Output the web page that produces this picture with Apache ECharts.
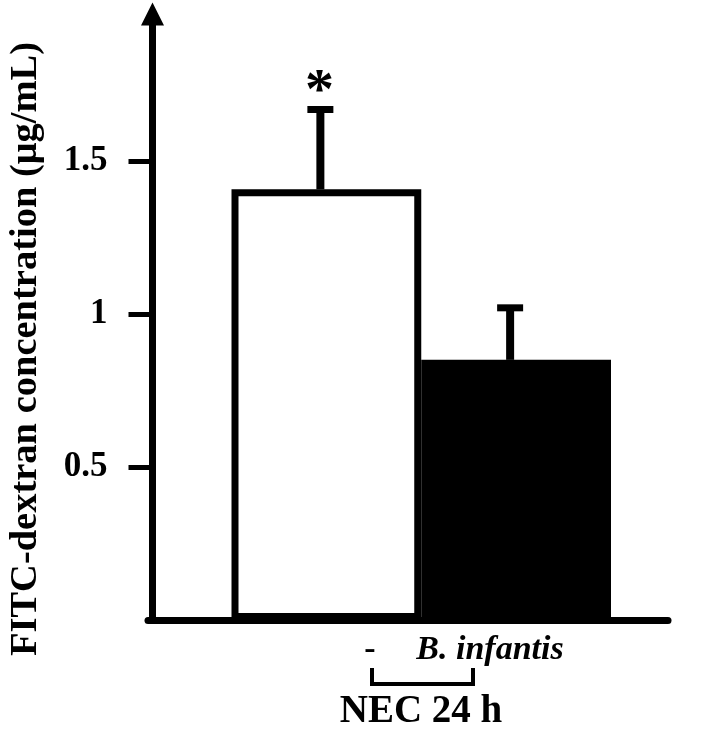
<!DOCTYPE html>
<html><head><meta charset="utf-8">
<script src="https://cdn.jsdelivr.net/npm/echarts@6/dist/echarts.min.js"></script>
<style>html,body{margin:0;padding:0;background:#fff}#c{width:719px;height:732px}</style>
</head><body><div id="c"></div>
<script>
const categories = ['-', 'B. infantis'];
const meanValues = [1.407, 0.850];
const errorTops = [1.668, 1.020];
const significance = ['*', ''];
const barColors = ['#ffffff', '#000000'];
const yTickValues = [0.5, 1, 1.5];
const groupLabel = 'NEC 24 h';
const yAxisTitle = 'FITC-dextran concentration (μg/mL)';

const FONT = 'Liberation Serif';
const chart = echarts.init(document.getElementById('c'), null, {renderer: 'canvas'});
chart.setOption({
  animation: false,
  backgroundColor: '#fff',
  grid: [
    {left: 231.5, right: 108, top: 14, bottom: 112},
    {left: 148, right: 51, top: 14, bottom: 112}
  ],
  xAxis: [
    {type: 'category', gridIndex: 0, data: categories, boundaryGap: true,
     axisLine: {show: false}, axisTick: {show: false}, axisLabel: {show: false}},
    {type: 'value', gridIndex: 1, min: 0, max: 1,
     axisLine: {show: true, lineStyle: {color: '#000', width: 7}},
     axisTick: {show: false}, axisLabel: {show: false}, splitLine: {show: false}}
  ],
  yAxis: [
    {type: 'value', gridIndex: 0, min: 0, max: 1.98, offset: 79,
     axisLine: {show: true, symbol: ['none', 'triangle'], symbolSize: [23, 23], symbolOffset: [0, 0],
                lineStyle: {color: '#000', width: 7}},
     axisTick: {show: true, customValues: yTickValues, length: 24, lineStyle: {color: '#000', width: 5}},
     axisLabel: {show: true, customValues: yTickValues, margin: 45,
                 formatter: v => String(v),
                 fontFamily: FONT, fontWeight: 'bold', fontSize: 35, color: '#000'},
     splitLine: {show: false}},
    {type: 'value', gridIndex: 1, show: false, min: 0, max: 1}
  ],
  series: [
    {type: 'bar', xAxisIndex: 0, yAxisIndex: 0, barCategoryGap: '0%', barWidth: '100%',
     data: meanValues.map((v, i) => ({value: v, itemStyle: {
        color: barColors[i], borderColor: '#000', borderWidth: i === 0 ? 7 : 0}})),
     z: 2},
    {type: 'custom', xAxisIndex: 0, yAxisIndex: 0, z: 3,
     data: categories.map((c, i) => [i, meanValues[i], errorTops[i]]),
     renderItem: function (params, api) {
       const base = api.coord([api.value(0), api.value(1)]);
       const top = api.coord([api.value(0), api.value(2)]);
       const x = base[0] - 6;
       const children = [
         {type: 'rect', shape: {x: x - 4, y: top[1], width: 8, height: base[1] - top[1]}, style: {fill: '#000'}},
         {type: 'rect', shape: {x: x - 13, y: top[1] - 3.5, width: 26, height: 7}, style: {fill: '#000'}}
       ];
       const s = significance[params.dataIndex];
       if (s) {
         children.push({type: 'text', x: x - 1, y: top[1] + 13,
           style: {text: s, fontFamily: FONT, fontWeight: 'bold', fontSize: 58, fill: '#000',
                   align: 'center', verticalAlign: 'bottom'}});
       }
       return {type: 'group', children: children};
     }}
  ],
  graphic: [
    {type: 'text', x: 26, y: 349, rotation: Math.PI / 2,
      style: {text: yAxisTitle, fontFamily: FONT, fontWeight: 'bold', fontSize: 38.5,
      fill: '#000', align: 'center', verticalAlign: 'middle'}},
    {type: 'text', x: 370, y: 650, style: {text: categories[0], fontFamily: FONT, fontWeight: 'bold', fontSize: 34,
      fill: '#000', align: 'center', verticalAlign: 'middle'}},
    {type: 'text', x: 490, y: 650, style: {text: categories[1], fontFamily: FONT, fontWeight: 'bold', fontStyle: 'italic',
      fontSize: 34, fill: '#000', align: 'center', verticalAlign: 'middle'}},
    {type: 'polyline', shape: {points: [[372, 668], [372, 684], [473, 684], [473, 668]]},
      style: {stroke: '#000', lineWidth: 4, fill: null}},
    {type: 'text', x: 421, y: 712, style: {text: groupLabel, fontFamily: FONT, fontWeight: 'bold', fontSize: 39,
      fill: '#000', align: 'center', verticalAlign: 'middle'}}
  ]
});
</script>
</body></html>
